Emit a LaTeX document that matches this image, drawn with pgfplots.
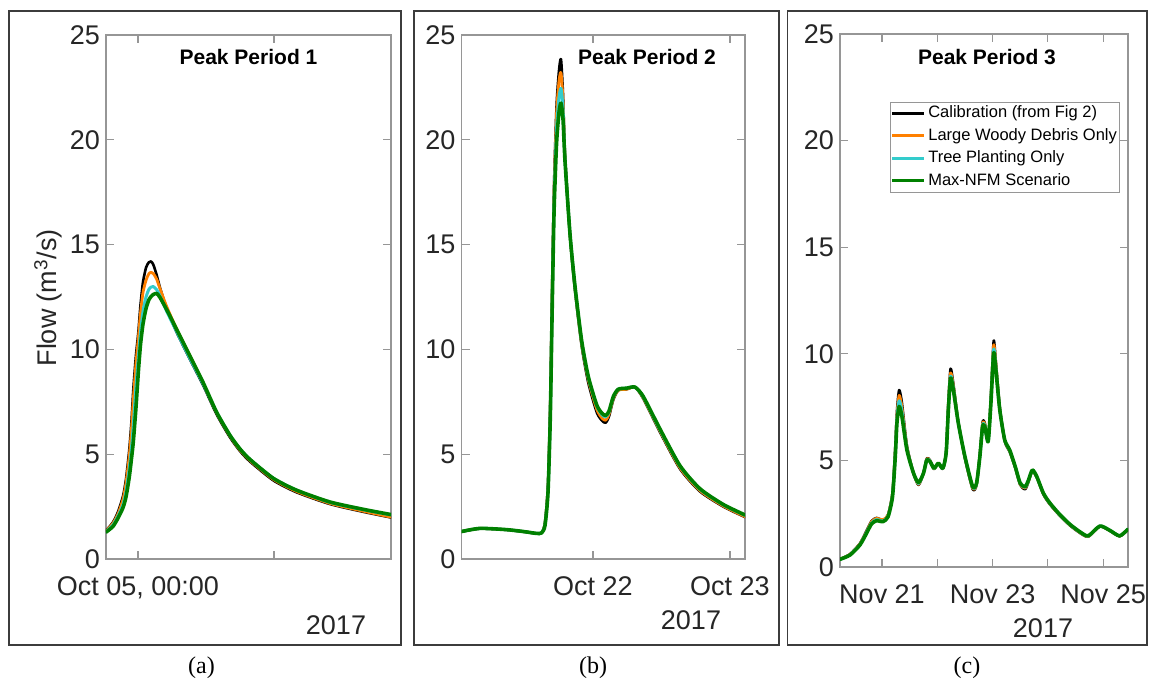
\documentclass[border=0pt]{standalone}
\usepackage{fontspec}
\setmainfont{Liberation Sans}
\newfontfamily\capfont{Liberation Serif}
\usepackage{pgfplots}
\usepackage{pgfplotstable}
\pgfplotsset{compat=1.18}

\definecolor{axgray}{RGB}{150,150,150}
\definecolor{boxgray}{RGB}{60,60,60}
\definecolor{ticktext}{RGB}{38,38,38}
\definecolor{cCal}{RGB}{0,0,0}
\definecolor{cLWD}{RGB}{255,128,0}
\definecolor{cTree}{RGB}{51,204,204}
\definecolor{cNFM}{RGB}{0,128,0}

% Peak period 1: hours after 5 Oct 2017 00:00
\pgfplotstableread{
h cal lwd tree nfm
-2.82 1.35 1.33 1.30 1.28
-2.21 1.75 1.70 1.62 1.55
-1.76 2.25 2.15 2.05 1.95
-1.32 3.00 2.85 2.60 2.45
-1.06 3.80 3.60 3.20 2.95
-0.77 5.20 4.90 4.30 3.90
-0.57 6.60 6.20 5.30 4.80
-0.41 8.10 7.60 6.40 5.60
-0.18 9.70 9.30 8.20 7.20
0.03 10.80 10.50 9.60 8.90
0.22 12.10 11.70 10.80 10.20
0.44 13.20 12.70 11.80 11.20
0.71 13.90 13.30 12.50 11.95
0.95 14.15 13.60 12.85 12.35
1.15 14.20 13.68 12.97 12.52
1.35 14.05 13.62 13.00 12.62
1.65 13.55 13.35 12.85 12.67
1.94 12.95 12.90 12.55 12.48
2.53 11.95 12.05 11.82 11.90
3.41 10.82 10.98 10.85 10.95
4.59 9.52 9.70 9.56 9.68
5.74 8.30 8.40 8.36 8.43
6.94 6.90 6.97 7.00 7.00
8.12 5.80 5.86 5.90 5.90
9.00 5.15 5.20 5.25 5.25
9.88 4.65 4.70 4.75 4.75
11.94 3.75 3.80 3.85 3.85
14.00 3.18 3.22 3.28 3.28
16.94 2.62 2.65 2.70 2.72
19.88 2.25 2.28 2.35 2.37
22.32 1.98 2.00 2.10 2.12
}\periodA

% Peak period 2: hours after 22 Oct 2017 00:00
\pgfplotstableread{
h cal lwd tree nfm
-23.04 1.30 1.31 1.31 1.31
-19.80 1.45 1.46 1.46 1.46
-15.12 1.39 1.40 1.40 1.40
-11.91 1.29 1.30 1.30 1.30
-9.86 1.21 1.22 1.22 1.22
-8.99 1.25 1.25 1.25 1.25
-8.41 1.75 1.70 1.65 1.60
-7.88 3.60 3.45 3.30 3.20
-7.48 7.60 7.30 7.00 6.80
-7.18 12.60 12.20 11.80 11.50
-6.83 17.80 17.40 17.00 16.50
-6.39 21.60 21.20 20.50 19.80
-5.96 23.30 22.80 22.00 21.30
-5.61 23.85 23.20 22.45 21.75
-5.26 22.20 21.90 21.50 21.00
-4.91 19.30 19.20 19.10 19.00
-4.03 15.40 15.45 15.50 15.50
-3.15 12.80 12.90 12.95 13.00
-1.98 10.15 10.25 10.35 10.40
-0.82 8.40 8.55 8.65 8.70
0.65 7.00 7.15 7.30 7.35
1.58 6.60 6.72 6.88 6.95
2.22 6.50 6.62 6.78 6.85
2.80 6.80 6.90 7.00 7.05
3.56 7.60 7.65 7.72 7.75
4.43 8.05 8.05 8.10 8.10
5.90 8.10 8.10 8.15 8.15
7.36 8.20 8.20 8.20 8.20
8.81 7.65 7.68 7.72 7.75
11.74 6.05 6.10 6.15 6.20
15.24 4.30 4.35 4.42 4.45
18.75 3.22 3.26 3.32 3.35
22.83 2.50 2.53 2.58 2.60
26.63 2.00 2.02 2.08 2.10
}\periodB

% Peak period 3: days after 21 Nov 2017 00:00
\pgfplotstableread{
d cal lwd tree nfm
-0.76 0.37 0.37 0.36 0.36
-0.58 0.60 0.59 0.57 0.56
-0.40 1.10 1.08 1.05 1.03
-0.28 1.70 1.66 1.62 1.58
-0.19 2.15 2.12 2.06 2.02
-0.10 2.30 2.28 2.22 2.17
0.02 2.20 2.22 2.16 2.13
0.11 2.45 2.45 2.40 2.36
0.19 3.50 3.45 3.38 3.30
0.24 5.60 5.45 5.30 5.18
0.27 7.30 7.10 6.95 6.75
0.31 8.30 8.05 7.80 7.53
0.36 7.70 7.50 7.30 7.06
0.45 5.70 5.62 5.55 5.49
0.57 4.40 4.40 4.40 4.40
0.66 3.85 3.88 3.92 3.96
0.75 4.40 4.40 4.40 4.40
0.81 5.10 5.08 5.05 5.02
0.87 5.00 4.98 4.96 4.94
0.94 4.60 4.61 4.62 4.63
1.02 4.85 4.86 4.86 4.87
1.10 4.60 4.61 4.62 4.63
1.16 5.40 5.38 5.36 5.34
1.20 7.70 7.60 7.45 7.37
1.24 9.30 9.10 8.95 8.86
1.29 8.60 8.50 8.40 8.31
1.38 6.80 6.78 6.76 6.75
1.50 5.10 5.13 5.16 5.18
1.64 3.65 3.70 3.74 3.77
1.71 3.85 3.88 3.90 3.93
1.77 5.30 5.25 5.20 5.18
1.82 6.80 6.72 6.65 6.59
1.86 6.75 6.70 6.64 6.59
1.92 5.90 5.90 5.89 5.88
1.97 8.00 7.90 7.80 7.69
2.02 10.60 10.40 10.20 10.03
2.06 9.60 9.50 9.35 9.25
2.13 7.50 7.45 7.40 7.37
2.22 5.90 5.92 5.94 5.96
2.31 5.40 5.44 5.47 5.49
2.41 4.65 4.67 4.69 4.71
2.50 3.85 3.88 3.91 3.93
2.59 3.65 3.70 3.74 3.77
2.65 4.00 4.03 4.06 4.08
2.72 4.50 4.52 4.54 4.55
2.80 4.20 4.21 4.23 4.24
2.92 3.40 3.42 3.44 3.46
3.04 2.93 2.95 2.97 2.99
3.22 2.40 2.42 2.44 2.45
3.40 1.95 1.97 1.99 2.00
3.58 1.60 1.62 1.64 1.65
3.73 1.42 1.43 1.45 1.46
3.94 1.90 1.91 1.92 1.92
4.12 1.70 1.71 1.72 1.72
4.30 1.44 1.45 1.46 1.46
4.45 1.76 1.77 1.78 1.78
}\periodC

\pgfplotsset{
  panel/.style={
    scale only axis, anchor=south west,
    ymin=0, ymax=25, ytick={0,5,...,25},
    axis line style={draw=axgray, line width=1.1pt},
    tick style={draw=axgray, line width=1.1pt},
    major tick length=8pt, tick align=inside,
    tick pos=both, ticklabel pos=left,
    /pgf/number format/assume math mode=true,
    tick label style={font=\fontsize{27}{30}\selectfont, text=ticktext},
    yticklabel style={inner sep=0pt, xshift=-6pt},
    xticklabel style={inner sep=0pt, anchor=north, yshift=-17pt},
  },
  flow/.style={smooth, tension=0.4, line join=round, line cap=round, no marks},
  cal/.style={flow, draw=cCal, line width=2.6pt},
  lwd/.style={flow, draw=cLWD, line width=2.8pt},
  tree/.style={flow, draw=cTree, line width=3pt},
  nfm/.style={flow, draw=cNFM, line width=3.6pt},
}

\begin{document}
\begin{tikzpicture}[x=1pt, y=1pt]
\useasboundingbox (0,0) rectangle (1149,678);

% panel frames
\draw[boxgray, line width=1.5pt] (9,33) rectangle (401,667);
\draw[boxgray, line width=1.5pt] (414,33) rectangle (779,667);
\draw[boxgray, line width=1.5pt] (787.5,33) rectangle (1147,667);

% (a)
\begin{axis}[panel, at={(106pt,119pt)}, width=285pt, height=524pt,
  xmin=-2.82, xmax=22.32, xtick={0,12}, xticklabels={{Oct 05, 00:00},{}}]
\addplot[cal]  table[x=h, y=cal]  {\periodA};
\addplot[lwd]  table[x=h, y=lwd]  {\periodA};
\addplot[tree] table[x=h, y=tree] {\periodA};
\addplot[nfm]  table[x=h, y=nfm]  {\periodA};
\end{axis}

% (b)
\begin{axis}[panel, at={(461.5pt,119pt)}, width=283.5pt, height=524pt,
  xmin=-23.04, xmax=26.63, xtick={0,24}, xticklabels={Oct 22,Oct 23}]
\addplot[cal]  table[x=h, y=cal]  {\periodB};
\addplot[lwd]  table[x=h, y=lwd]  {\periodB};
\addplot[tree] table[x=h, y=tree] {\periodB};
\addplot[nfm]  table[x=h, y=nfm]  {\periodB};
\end{axis}

% (c)
\begin{axis}[panel, at={(840pt,111pt)}, width=288pt, height=533pt,
  xmin=-0.76, xmax=4.45, xtick={0,1,2,3,4},
  xticklabels={Nov 21,{},Nov 23,{},Nov 25},
  legend cell align=left,
  legend style={at={(0.972,0.873)}, anchor=north east, draw=axgray,
    line width=1pt, fill=white, inner sep=0pt, row sep=0pt,
    font=\fontsize{16.5}{18}\selectfont,
    nodes={inner sep=2.5pt, text height=13pt, text depth=4.5pt}},
  legend image code/.code={\draw[#1, line width=3pt, line cap=butt] (0pt,0pt) -- (32pt,0pt);}]
\addplot[cal]  table[x=d, y=cal]  {\periodC};
\addplot[lwd]  table[x=d, y=lwd]  {\periodC};
\addplot[tree] table[x=d, y=tree] {\periodC};
\addplot[nfm]  table[x=d, y=nfm]  {\periodC};
\legend{Calibration (from Fig 2), Large Woody Debris Only, Tree Planting Only, Max-NFM Scenario}
\end{axis}

% panel titles
\node[font=\bfseries\fontsize{21}{24}\selectfont] at (248.5,621) {Peak Period 1};
\node[font=\bfseries\fontsize{21}{24}\selectfont] at (647,621) {Peak Period 2};
\node[font=\bfseries\fontsize{21}{24}\selectfont] at (987,621) {Peak Period 3};

% axis label and year labels
\node[rotate=90, font=\fontsize{27}{30}\selectfont, text=ticktext] at (48,380) {Flow (m\textsuperscript{3}/s)};
\node[font=\fontsize{27}{30}\selectfont, text=ticktext] at (336,53) {2017};
\node[font=\fontsize{27}{30}\selectfont, text=ticktext] at (691,58) {2017};
\node[font=\fontsize{27}{30}\selectfont, text=ticktext] at (1043,50) {2017};

% sub-figure captions
\node[font=\capfont\fontsize{24}{26}\selectfont] at (201.5,10) {(a)};
\node[font=\capfont\fontsize{24}{26}\selectfont] at (593,10) {(b)};
\node[font=\capfont\fontsize{24}{26}\selectfont] at (967,10) {(c)};
\end{tikzpicture}
\end{document}
